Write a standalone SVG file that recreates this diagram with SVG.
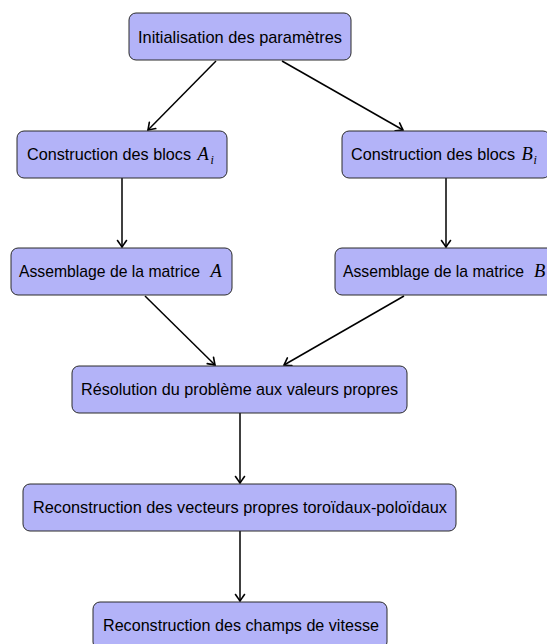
<svg xmlns="http://www.w3.org/2000/svg" width="547" height="644" viewBox="0 0 547 644">
<defs>
<marker id="arr" markerUnits="userSpaceOnUse" markerWidth="14" markerHeight="14" refX="0" refY="0" viewBox="-8 -7 10 14" orient="auto">
<path d="M -6.5,-4.5 Q -1.5,-1 0,0 Q -1.5,1 -6.5,4.5" fill="none" stroke="#000" stroke-width="1.6" stroke-linecap="round"/>
</marker>
</defs>
<style>
.box{fill:#b3b3f8;stroke:#2a2a2a;stroke-width:1}
.t{font-family:"Liberation Sans","DejaVu Sans",sans-serif;font-size:17px;fill:#000}
.m{font-family:"Liberation Serif","DejaVu Serif",serif;font-style:italic;font-size:18.5px}
.s{font-size:12px}
.c{stroke:#000;stroke-width:1.5;fill:none;marker-end:url(#arr)}
</style>
<rect width="547" height="644" fill="#fff"/>
<g id="connectors">
<line class="c" x1="216" y1="61" x2="148" y2="130"/>
<line class="c" x1="282" y1="61" x2="403" y2="130"/>
<line class="c" x1="122" y1="178" x2="122" y2="247"/>
<line class="c" x1="446" y1="178" x2="446" y2="247"/>
<line class="c" x1="145" y1="296" x2="215" y2="365"/>
<line class="c" x1="404" y1="296" x2="284" y2="365"/>
<line class="c" x1="240" y1="413" x2="240" y2="483"/>
<line class="c" x1="240" y1="531" x2="240" y2="601"/>
</g>
<g id="init">
<rect class="box" x="129" y="13" width="222" height="47" rx="7"/>
<text class="t" x="138" y="42.5" textLength="204" lengthAdjust="spacingAndGlyphs">Initialisation des paramètres</text>
</g>
<g id="blocsA">
<rect class="box" x="17" y="131" width="210" height="47" rx="7"/>
<text class="t" x="27" y="160" textLength="164" lengthAdjust="spacingAndGlyphs">Construction des blocs</text>
<text class="t m" x="197.5" y="160">A</text><text class="t m s" x="210.5" y="163.5">i</text>
</g>
<g id="blocsB">
<rect class="box" x="342" y="131" width="208" height="47" rx="7"/>
<text class="t" x="351" y="160" textLength="164" lengthAdjust="spacingAndGlyphs">Construction des blocs</text>
<text class="t m" x="521.5" y="160">B</text><text class="t m s" x="533.5" y="163.5">i</text>
</g>
<g id="matA">
<rect class="box" x="11" y="248" width="221" height="47" rx="7"/>
<text class="t" x="19" y="277" textLength="181" lengthAdjust="spacingAndGlyphs">Assemblage de la matrice</text>
<text class="t m" x="210.5" y="277">A</text>
</g>
<g id="matB">
<rect class="box" x="335" y="248" width="221" height="47" rx="7"/>
<text class="t" x="343" y="277" textLength="181" lengthAdjust="spacingAndGlyphs">Assemblage de la matrice</text>
<text class="t m" x="534" y="277">B</text>
</g>
<g id="resolution">
<rect class="box" x="72" y="366" width="335" height="47" rx="7"/>
<text class="t" x="81" y="395" textLength="317" lengthAdjust="spacingAndGlyphs">Résolution du problème aux valeurs propres</text>
</g>
<g id="vecteurs">
<rect class="box" x="23" y="484" width="433" height="47" rx="7"/>
<text class="t" x="33" y="513" textLength="414" lengthAdjust="spacingAndGlyphs">Reconstruction des vecteurs propres toroïdaux-poloïdaux</text>
</g>
<g id="champs">
<rect class="box" x="93" y="602" width="294" height="47" rx="7"/>
<text class="t" x="103" y="631" textLength="276" lengthAdjust="spacingAndGlyphs">Reconstruction des champs de vitesse</text>
</g>
</svg>
